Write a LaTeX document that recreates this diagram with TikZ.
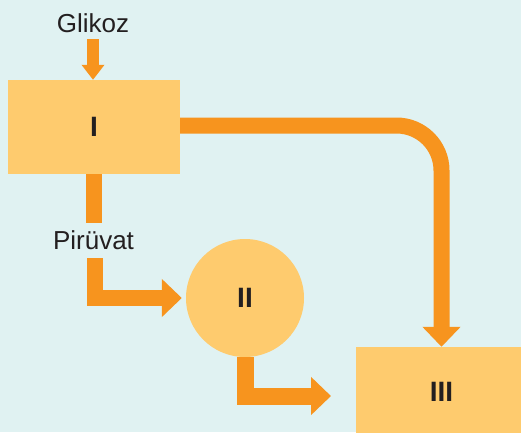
\documentclass[tikz,border=0pt]{standalone}
\usepackage{fontspec}
\setmainfont{Liberation Sans}
\usetikzlibrary{arrows.meta}
\definecolor{bgcol}{HTML}{E0F2F2}
\definecolor{boxcol}{HTML}{FECB6E}
\definecolor{flowcol}{HTML}{F7941E}
\definecolor{inkcol}{HTML}{231F20}
\tikzset{
  stage/.style={fill=boxcol, draw=none, inner sep=0pt, text=inkcol,
    font=\fontsize{28}{32}\selectfont\bfseries},
  lbl/.style={inner sep=0pt, anchor=base, text=inkcol,
    font=\fontsize{26}{30}\selectfont},
  flow/.style={draw=flowcol, line width=16pt, line cap=butt, line join=miter},
  bigtip/.style={-{Triangle[length=20pt,width=37pt]}},
  smalltip/.style={-{Triangle[length=15pt,width=22pt]}},
}
\begin{document}
\begin{tikzpicture}[x=1pt,y=-1pt]
  \useasboundingbox (0,0) rectangle (521,432);
  \fill[bgcol] (0,0) rectangle (521,432);

  % stages
  \node[stage, minimum width=172pt, minimum height=94pt] (I) at (94,127) {I};
  \node[stage, circle, minimum size=118pt] (II) at (245,298) {II};
  \node[stage, minimum width=171pt, minimum height=90pt] (III) at (441.5,392) {III};

  % labels
  \node[lbl] (glk) at (93,32) {Glikoz};
  \node[lbl] (pir) at (93.5,249) {Pirüvat};

  % free end next to stage III
  \coordinate (IIout) at (331,396);

  % glucose into stage I
  \draw[flow, line width=12pt, smalltip, shorten <=7pt] (glk.south) -- (glk.south |- I.north);

  % stage I down to pyruvate
  \draw[flow, shorten >=7pt] (I.south) -- (I.south |- pir.north);

  % pyruvate into stage II
  \draw[flow, bigtip, shorten <=9pt, shorten >=4pt] ([xshift=1.5pt]pir.south) |- (II.west);

  % stage II into stage III
  \draw[flow, line width=17pt, bigtip] (II.south) |- (IIout);

  % stage I directly to stage III
  \draw[flow, bigtip, rounded corners=45pt] ([yshift=1.5pt]I.east) -| (III.north);
\end{tikzpicture}
\end{document}
